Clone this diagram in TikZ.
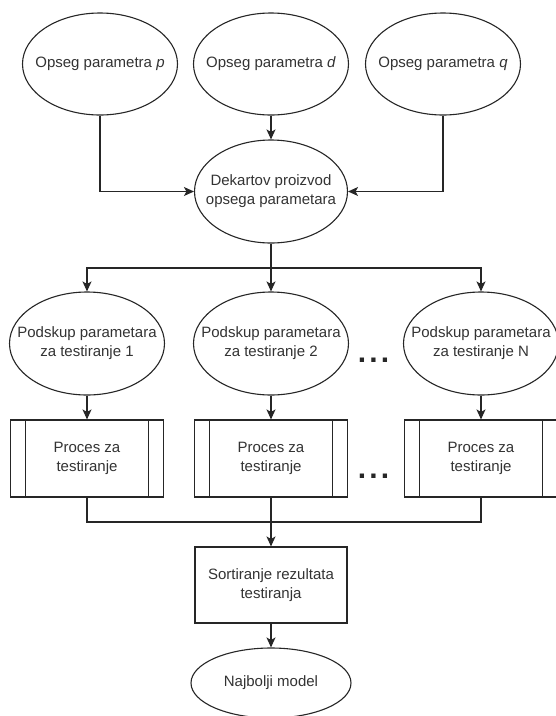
\documentclass[tikz,border=0pt]{standalone}
\usepackage{fontspec}
\setmainfont{Liberation Sans}
\usetikzlibrary{arrows.meta,shapes.geometric}
\begin{document}
\begin{tikzpicture}[x=1pt,y=-1pt,
  ell/.style={draw=black!85, line width=1.1pt, ellipse, inner sep=0pt, minimum width=155pt, minimum height=102pt},
  txt/.style={text=black!80, font=\fontsize{15}{19}\selectfont, align=center, inner sep=0pt},
  proc/.style={draw=black!85, line width=1.1pt, rectangle, inner sep=0pt, minimum width=153pt, minimum height=77pt},
  conn/.style={draw=black!85, line width=1.1pt},
  arr/.style={conn, -{Stealth[length=10pt,width=9pt,inset=2.5pt]}},
  dotsnode/.style={text=black!85, font=\fontsize{30}{30}\selectfont\bfseries, inner sep=0pt, anchor=base}]
\useasboundingbox (0,0) rectangle (556,716);
\clip (0,0) rectangle (556,716);
\fill[white] (0,0) rectangle (556,716);

% top row
\node[ell] (p) at (100,64) {};
\node[txt] at (p) {Opseg parametra \textit{p}};
\node[ell] (d) at (271,64) {};
\node[txt] at (d) {Opseg parametra \textit{d}};
\node[ell] (q) at (443,64) {};
\node[txt] at (q) {Opseg parametra \textit{q}};

% cartesian product
\node[ell, minimum width=153pt, minimum height=103pt] (dek) at (271,191.5) {};
\node[txt] at (dek) {Dekartov proizvod\\opsega parametara};

% subsets
\node[ell, minimum height=103pt] (s1) at (87,343.5) {};
\node[txt] at (s1) {Podskup parametara\\za testiranje 1};
\node[ell, minimum height=103pt] (s2) at (271,343.5) {};
\node[txt] at (s2) {Podskup parametara\\za testiranje 2};
\node[ell, minimum height=103pt] (sN) at (481,343.5) {};
\node[txt] at (sN) {Podskup parametara\\za testiranje N};

% processes
\node[proc] (b1) at (87,458.5) {};
\node[txt] at (b1) {Proces za\\testiranje};
\node[proc] (b2) at (271,458.5) {};
\node[txt] at (b2) {Proces za\\testiranje};
\node[proc] (bN) at (481,458.5) {};
\node[txt] at (bN) {Proces za\\testiranje};
\foreach \b in {b1,b2,bN}{
  \draw[conn] ([xshift=15.5pt]\b.north west) -- ([xshift=15.5pt]\b.south west);
  \draw[conn] ([xshift=-15.5pt]\b.north east) -- ([xshift=-15.5pt]\b.south east);
}

% dots
\node[dotsnode] (dots1) at (373.5,362) {.\hspace{3.2pt}.\hspace{3.2pt}.};
\node[dotsnode] (dots2) at (373.5,478) {.\hspace{3.2pt}.\hspace{3.2pt}.};

% sort
\node[proc, minimum width=152pt, minimum height=76pt] (sort) at (271,585) {};
\node[txt] at (sort) {Sortiranje rezultata\\testiranja};

% best model
\node[ell, minimum width=160pt, minimum height=70pt] (best) at (271,683) {};
\node[txt] at (best) {Najbolji model};

% connectors
\draw[arr] (p.south) |- (dek.west);
\draw[arr] (d.south) -- (dek.north);
\draw[arr] (q.south) |- (dek.east);

\coordinate (br) at (271,268);
\draw[conn] (dek.south) -- (br);
\draw[arr] (br) -| (s1.north);
\draw[arr] (br) -- (s2.north);
\draw[arr] (br) -| (sN.north);

\draw[arr] (s1.south) -- (b1.north);
\draw[arr] (s2.south) -- (b2.north);
\draw[arr] (sN.south) -- (bN.north);

\coordinate (mg) at (271,522);
\draw[conn] (b1.south) |- (mg);
\draw[conn] (bN.south) |- (mg);
\draw[conn] (b2.south) -- (mg);
\draw[arr] (mg) -- (sort.north);
\draw[arr] (sort.south) -- (best.north);
\end{tikzpicture}
\end{document}
